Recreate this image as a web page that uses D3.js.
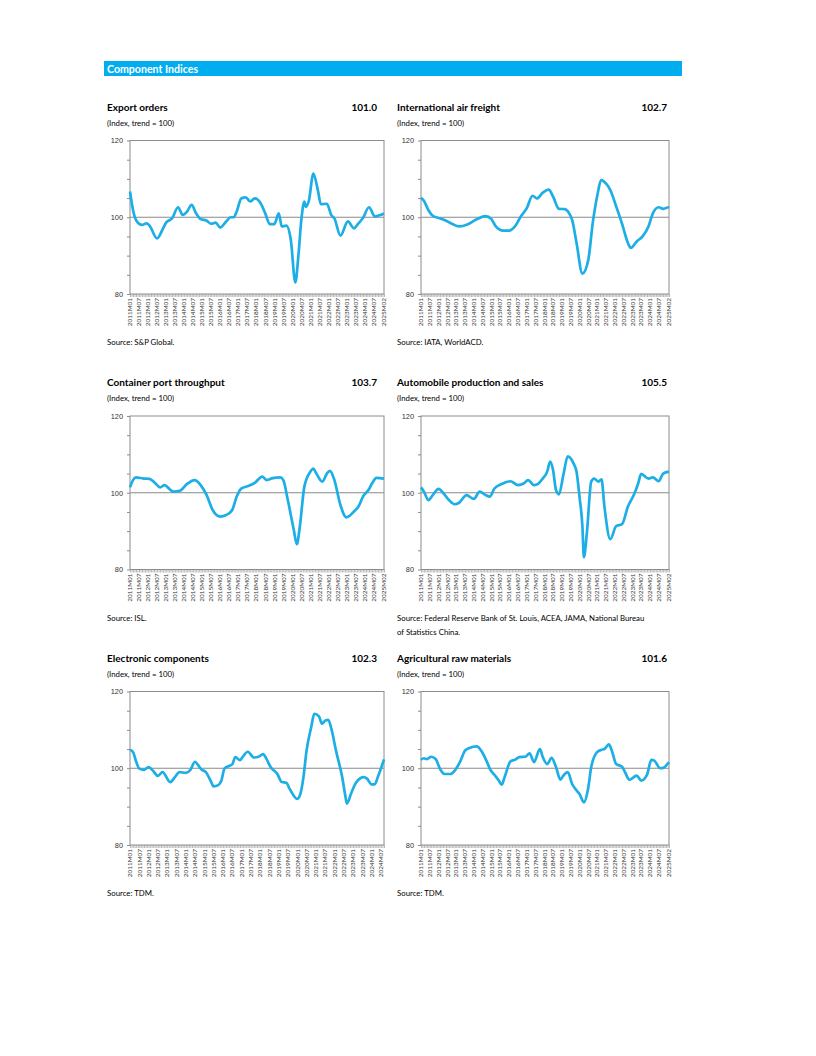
<!DOCTYPE html>
<html lang="en">
<head>
    <meta charset="UTF-8">
    <title>Component Indices</title>
    <style>
        html, body {
            margin: 0;
            padding: 0;
            background: #fff;
        }

        svg {
            display: block;
            font-family: Lato, "Open Sans", sans-serif;
        }
    </style>
</head>
<body>
<svg id="page" width="816" height="1056"></svg>
<script src="https://cdnjs.cloudflare.com/ajax/libs/d3/7.8.5/d3.min.js"></script>
<script>
    "use strict"

    // months are counted from 2011M01 (= 0)
    const exportMonths = [0, 2, 4, 8, 11, 13, 18, 22, 24, 28, 32, 35, 38, 41, 44, 47, 51, 54, 57, 60, 64, 67, 69, 71, 74, 77, 80, 83, 87, 90, 93, 96, 99, 101, 104, 107, 110, 112, 114, 116, 117, 119, 122, 125, 127, 131, 134, 136, 140, 145, 149, 152, 155, 159, 163, 166, 169];
    const exportValues = [106.7, 101.9, 99.3, 98.0, 98.4, 97.8, 94.5, 97.1, 98.6, 99.7, 102.6, 100.6, 101.5, 103.2, 101.0, 99.5, 99.1, 98.3, 98.6, 97.3, 98.9, 100.0, 100.0, 101.5, 104.9, 105.2, 104.1, 104.9, 103.6, 101.0, 98.2, 98.2, 101.0, 97.6, 97.8, 94.1, 83.0, 89.8, 99.3, 104.1, 102.7, 104.3, 111.4, 107.0, 103.4, 103.5, 100.5, 99.7, 95.2, 98.9, 97.1, 98.4, 99.8, 102.6, 100.2, 100.5, 101.0];

    const airMonths = [0, 2, 5, 8, 13, 16, 21, 26, 32, 38, 44, 48, 51, 56, 60, 64, 68, 72, 76, 79, 83, 87, 90, 94, 98, 101, 103, 106, 110, 114, 117, 120, 123, 126, 129, 133, 137, 141, 143, 147, 151, 155, 158, 162, 165, 169];
    const airValues = [105.1, 104.3, 101.9, 100.4, 99.7, 99.3, 98.3, 97.6, 98.2, 99.5, 100.3, 99.5, 97.6, 96.5, 96.5, 97.6, 100.2, 102.3, 105.6, 104.9, 106.4, 107.2, 105.4, 102.2, 102.1, 101.0, 99.3, 93.3, 85.3, 88.9, 98.4, 105.4, 109.7, 108.8, 107.1, 102.8, 98.3, 93.3, 92.0, 93.7, 95.0, 97.6, 101.0, 102.6, 102.2, 102.7];

    const portMonths = [0, 2, 4, 9, 13, 17, 20, 23, 27, 29, 33, 38, 43, 47, 51, 55, 60, 64, 68, 71, 74, 79, 83, 88, 91, 95, 100, 102, 105, 109, 111, 113, 116, 120, 122, 124, 128, 131, 133, 136, 140, 144, 149, 152, 155, 159, 161, 164, 169];
    const portValues = [101.4, 103.3, 104.0, 103.7, 103.6, 102.4, 101.4, 102.0, 100.7, 100.3, 100.5, 102.3, 103.3, 102.0, 99.4, 95.5, 93.8, 94.2, 95.5, 99.0, 101.1, 101.8, 102.6, 104.2, 103.3, 103.8, 104.0, 103.3, 98.1, 90.3, 86.6, 91.2, 101.6, 105.5, 106.3, 105.0, 102.9, 105.0, 105.7, 103.3, 96.8, 93.6, 95.1, 96.4, 99.0, 100.9, 102.4, 103.9, 103.7];

    const autoMonths = [0, 2, 5, 8, 12, 15, 19, 23, 26, 31, 36, 40, 44, 47, 50, 55, 61, 66, 70, 73, 77, 80, 83, 86, 88, 90, 92, 94, 97, 100, 104, 106, 108, 110, 111, 113, 116, 118, 121, 123, 125, 129, 133, 137, 141, 145, 148, 150, 155, 158, 162, 165, 169];
    const autoValues = [101.4, 100.3, 98.1, 99.4, 101.0, 100.0, 98.1, 97.0, 97.4, 99.4, 98.4, 100.3, 99.4, 99.0, 101.1, 102.3, 103.0, 102.0, 102.4, 103.3, 102.0, 102.4, 103.7, 105.5, 108.1, 105.9, 100.7, 99.6, 104.6, 109.5, 107.6, 105.5, 99.0, 91.2, 83.2, 89.4, 102.9, 103.7, 102.9, 103.5, 96.4, 87.9, 91.3, 91.8, 96.4, 99.4, 102.4, 104.9, 103.7, 104.0, 103.0, 105.0, 105.5];

    const elecMonths = [0, 2, 4, 6, 9, 12, 15, 18, 21, 26, 29, 32, 36, 39, 42, 44, 46, 49, 52, 54, 57, 59, 61, 64, 66, 68, 71, 73, 76, 80, 83, 86, 88, 91, 95, 98, 101, 103, 108, 110, 112, 114, 117, 119, 122, 124, 126, 128, 130, 133, 137, 139, 140, 143, 146, 151, 153, 156, 158, 160, 164];
    const elecValues = [104.8, 104.2, 101.7, 99.9, 99.6, 100.3, 99.3, 98.0, 99.0, 96.4, 97.7, 99.0, 98.8, 99.6, 101.7, 100.8, 99.7, 99.0, 96.8, 95.3, 95.6, 96.8, 99.9, 100.6, 101.0, 102.9, 102.1, 103.1, 104.3, 102.8, 103.0, 103.7, 102.5, 100.2, 98.6, 96.4, 96.2, 94.7, 92.0, 93.3, 97.7, 104.6, 110.7, 114.2, 113.5, 111.6, 112.4, 112.6, 110.3, 104.6, 97.7, 92.9, 90.8, 93.7, 96.3, 97.7, 97.3, 95.8, 95.8, 97.7, 102.3];

    const agriMonths = [0, 2, 4, 7, 10, 13, 16, 20, 23, 27, 30, 33, 38, 41, 45, 47, 50, 53, 55, 57, 61, 64, 67, 71, 74, 77, 81, 83, 86, 89, 92, 95, 97, 100, 103, 106, 108, 111, 114, 116, 120, 123, 125, 128, 130, 133, 137, 139, 142, 147, 150, 154, 157, 159, 163, 165, 169];
    const agriValues = [102.2, 102.6, 102.4, 103.0, 102.4, 99.8, 98.5, 98.5, 99.4, 102.0, 104.6, 105.3, 105.7, 104.6, 101.6, 99.8, 98.3, 96.8, 95.7, 97.7, 101.8, 102.2, 102.9, 103.0, 103.9, 101.6, 105.0, 102.9, 101.1, 102.7, 100.3, 97.0, 98.1, 99.0, 95.9, 94.2, 93.3, 91.1, 95.0, 100.3, 104.2, 104.8, 105.0, 106.2, 104.6, 101.1, 100.4, 99.0, 97.0, 98.1, 96.8, 98.3, 102.2, 102.0, 100.0, 100.1, 101.6];

    const tickLabelsFull = ["2011M01", "2011M07", "2012M01", "2012M07", "2013M01", "2013M07", "2014M01", "2014M07",
        "2015M01", "2015M07", "2016M01", "2016M07", "2017M01", "2017M07", "2018M01", "2018M07", "2019M01", "2019M07",
        "2020M01", "2020M07", "2021M01", "2021M07", "2022M01", "2022M07", "2023M01", "2023M07", "2024M01", "2024M07", "2025M02"];
    const tickLabelsElec = tickLabelsFull.slice(0, 28);

    const yTicks = [80, 85, 90, 95, 100, 105, 110, 115, 120];
    const yLabels = [80, 100, 120];

    const titles = ["Export orders", "International air freight", "Container port throughput",
        "Automobile production and sales", "Electronic components", "Agricultural raw materials"];
    const latest = ["101.0", "102.7", "103.7", "105.5", "102.3", "101.6"];
    const sources = [["Source:  S&P Global."], ["Source: IATA, WorldACD."], ["Source: ISL."],
        ["Source: Federal Reserve Bank of St. Louis, ACEA, JAMA, National Bureau", "of Statistics China."],
        ["Source:  TDM."], ["Source: TDM."]];

    const charts = [
        {months: exportMonths, values: exportValues, last: 169, ticks: tickLabelsFull},
        {months: airMonths, values: airValues, last: 169, ticks: tickLabelsFull},
        {months: portMonths, values: portValues, last: 169, ticks: tickLabelsFull},
        {months: autoMonths, values: autoValues, last: 169, ticks: tickLabelsFull},
        {months: elecMonths, values: elecValues, last: 164, ticks: tickLabelsElec},
        {months: agriMonths, values: agriValues, last: 169, ticks: tickLabelsFull}
    ];

    const LINE = "#1DAEE6";
    const FRAME = "#8c8c8c";

    const colLeft = [130, 421];
    const colWidth = [254, 248];
    const titleX = [107, 397];
    const valueX = [377, 667];
    const rowTop = [140.5, 416, 691.5];
    const plotH = 153.5;

    function monthIndex(label) {
        return (+label.slice(0, 4) - 2011) * 12 + (+label.slice(5) - 1);
    }

    const svg = d3.select("#page");

    // header bar
    svg.append("rect")
        .attr("x", 104).attr("y", 61)
        .attr("width", 578).attr("height", 15)
        .attr("fill", "#00AEEF");
    svg.append("text")
        .attr("x", 107).attr("y", 72.8)
        .attr("font-size", 10.6).attr("font-weight", "bold")
        .attr("fill", "#fff")
        .text("Component Indices");

    charts.forEach((c, i) => {
        const col = i % 2, row = Math.floor(i / 2);
        const left = colLeft[col], top = rowTop[row], w = colWidth[col];

        svg.append("text")
            .attr("x", titleX[col]).attr("y", top - 30)
            .attr("font-size", 10).attr("font-weight", "bold")
            .text(titles[i]);
        svg.append("text")
            .attr("x", valueX[col]).attr("y", top - 30)
            .attr("text-anchor", "end")
            .attr("font-size", 10).attr("font-weight", "bold")
            .text(latest[i]);
        svg.append("text")
            .attr("x", titleX[col]).attr("y", top - 15)
            .attr("font-size", 7.8)
            .text("(Index, trend = 100)");

        const x = d3.scaleLinear().domain([0, c.last]).range([0, w]);
        const y = d3.scaleLinear().domain([80, 120]).range([plotH, 0]);

        const g = svg.append("g").attr("transform", `translate(${left},${top})`);

        // y axis ticks + labels
        const yAxis = d3.axisLeft(y).tickValues(yTicks).tickSize(3)
            .tickFormat(d => yLabels.includes(d) ? d : "");
        const ya = g.append("g").call(yAxis);
        ya.select(".domain").remove();
        ya.selectAll("line").attr("stroke", FRAME);
        ya.selectAll("text")
            .attr("font-family", null)
            .attr("font-size", 7.4)
            .attr("fill", "#333")
            .attr("x", -7);

        // x axis: monthly ticks, labels every 6 months
        const xa = g.append("g").attr("transform", `translate(0,${plotH})`)
            .call(d3.axisBottom(x).tickValues(d3.range(0, c.last + 1)).tickSize(3).tickFormat(""));
        xa.select(".domain").remove();
        xa.selectAll("line").attr("stroke", FRAME).attr("stroke-width", 0.6);

        g.append("g").selectAll("text")
            .data(c.ticks)
            .join("text")
            .attr("transform", d => `translate(${x(monthIndex(d))},${plotH + 4}) rotate(-90)`)
            .attr("text-anchor", "end")
            .attr("dy", "0.35em")
            .attr("font-size", 6.4)
            .attr("fill", "#333")
            .text(d => d);

        // trend line at 100
        g.append("line")
            .attr("x1", 0).attr("x2", w)
            .attr("y1", y(100)).attr("y2", y(100))
            .attr("stroke", "#8a8a8a").attr("stroke-width", 1);

        // frame
        g.append("rect")
            .attr("x", 0).attr("y", 0)
            .attr("width", w).attr("height", plotH)
            .attr("fill", "none")
            .attr("stroke", FRAME).attr("stroke-width", 1);

        const pts = c.months.map((m, k) => [m, c.values[k]]);
        const line = d3.line()
            .x(d => x(d[0]))
            .y(d => y(d[1]))
            .curve(d3.curveMonotoneX);
        g.append("path")
            .datum(pts)
            .attr("d", line)
            .attr("fill", "none")
            .attr("stroke", LINE)
            .attr("stroke-width", 2.7)
            .attr("stroke-linejoin", "round");

        // source note
        sources[i].forEach((s, k) => {
            svg.append("text")
                .attr("x", titleX[col]).attr("y", top + plotH + 51 + k * 14)
                .attr("font-size", 7.8)
                .text(s);
        });
    });
</script>
</body>
</html>
